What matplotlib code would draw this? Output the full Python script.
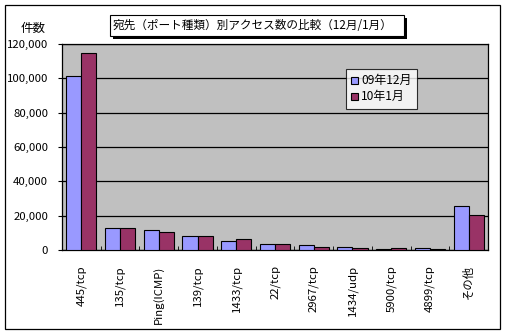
import matplotlib.pyplot as plt
import numpy as np
from matplotlib.patches import Rectangle
from matplotlib.ticker import FuncFormatter, MultipleLocator

plt.rcParams['font.family'] = ['Noto Sans CJK JP', 'DejaVu Sans']

# Access counts per destination port
ports = ['445/tcp', '135/tcp', 'Ping(ICMP)', '139/tcp', '1433/tcp', '22/tcp',
         '2967/tcp', '1434/udp', '5900/tcp', '4899/tcp', 'その他']
dec_09 = [101500, 12700, 11500, 8400, 5100, 3500, 2900, 1900, 300, 1100, 25600]
jan_10 = [115000, 12700, 10300, 8400, 6200, 3300, 1750, 1150, 1100, 500, 20200]
series_names = ['09年12月', '10年1月']

fig = plt.figure(figsize=(5.05, 3.34), dpi=100)
ax = fig.add_axes([62 / 505, 1 - 250 / 334, 426 / 505, 206 / 334])
ax.set_facecolor('#c0c0c0')

x = np.arange(len(ports))
w = 0.39
ax.bar(x - w / 2, dec_09, w, color='#9999ff', edgecolor='black', linewidth=0.8,
       label=series_names[0], zorder=3)
ax.bar(x + w / 2, jan_10, w, color='#993366', edgecolor='black', linewidth=0.8,
       label=series_names[1], zorder=3)

ax.set_xlim(-0.5, len(ports) - 0.5)
ax.set_ylim(0, 120000)
ax.yaxis.set_major_locator(MultipleLocator(20000))
ax.yaxis.set_major_formatter(FuncFormatter(lambda v, p: '{:,.0f}'.format(v)))
ax.grid(axis='y', color='black', linewidth=0.9, zorder=1)

ax.set_xticks(x)
ax.set_xticklabels(ports, rotation=90, fontsize=8.2)
ax.set_xticks(np.arange(-0.5, len(ports)), minor=True)
ax.tick_params(axis='x', which='major', length=0, pad=11)
ax.tick_params(axis='x', which='minor', length=3, direction='in')
ax.tick_params(axis='y', length=3, direction='out', labelsize=8.2, pad=7)
for s in ax.spines.values():
    s.set_linewidth(0.9)

leg = ax.legend(loc='upper left', bbox_to_anchor=(284 / 426, 1 - 25 / 206),
                borderaxespad=0, fontsize=8.6, frameon=True, fancybox=False,
                edgecolor='black', handlelength=0.55, handleheight=0.55,
                handletextpad=0.25, borderpad=0.45, labelspacing=0.25)
leg.get_frame().set_linewidth(0.8)

# Title box with a drop shadow
fig.patches.append(Rectangle((113 / 505, 1 - 39 / 334), 294 / 505, 21 / 334,
                             transform=fig.transFigure, facecolor='black',
                             edgecolor='none'))
fig.patches.append(Rectangle((110 / 505, 1 - 36 / 334), 294 / 505, 21 / 334,
                             transform=fig.transFigure, facecolor='white',
                             edgecolor='black', linewidth=0.8))
fig.text(113 / 505, 1 - 25.5 / 334, '宛先（ポート種類）別アクセス数の比較（12月/1月）',
         ha='left', va='center', fontsize=8.4)
fig.text(33 / 505, 1 - 28 / 334, '件数', ha='center', va='center', fontsize=9)

# Outer chart frame
fig.patches.append(Rectangle((5 / 505, 5 / 334), 495 / 505, 324 / 334,
                             transform=fig.transFigure, facecolor='none',
                             edgecolor='black', linewidth=0.9))

fig.savefig('out.png', dpi=100)
